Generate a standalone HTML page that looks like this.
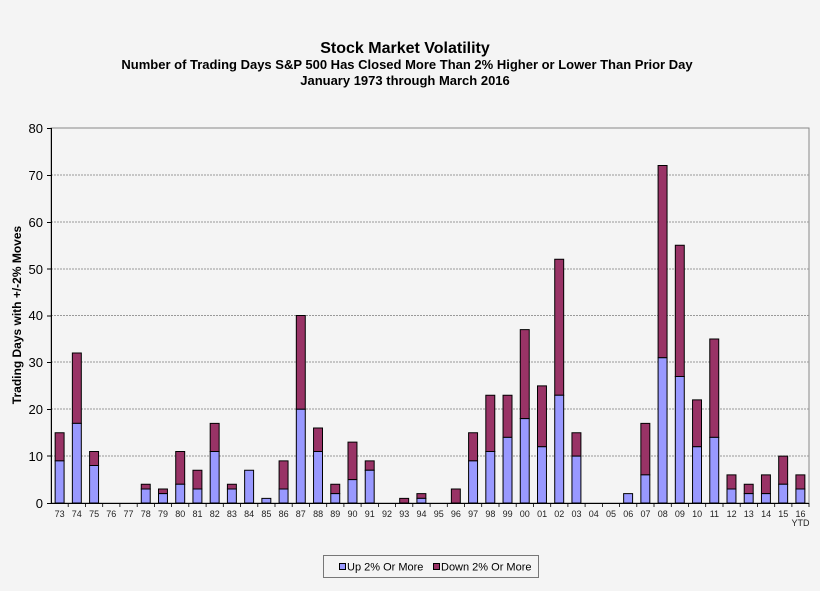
<!DOCTYPE html>
<html><head><meta charset="utf-8"><style>
html,body{margin:0;padding:0;background:#f4f4f4;overflow:hidden;width:820px;height:591px;}
svg{display:block;}
svg text{font-family:"Liberation Sans",Arial,sans-serif;}
</style></head><body>
<svg width="820" height="591" xmlns="http://www.w3.org/2000/svg">
<rect width="820" height="591" fill="#f4f4f4"/>
<text x="405" y="53" font-size="16" font-weight="bold" text-anchor="middle">Stock Market Volatility</text>
<text x="407" y="69" font-size="13" font-weight="bold" text-anchor="middle">Number of Trading Days S&amp;P 500 Has Closed More Than 2% Higher or Lower Than Prior Day</text>
<text x="405" y="85" font-size="13" font-weight="bold" text-anchor="middle">January 1973 through March 2016</text>
<rect x="51" y="128" width="758" height="375" fill="none" stroke="#888" stroke-width="1"/>
<g stroke="#999" stroke-width="1" stroke-dasharray="2,1">
<line x1="51" x2="809" y1="175" y2="175"/><line x1="51" x2="809" y1="222" y2="222"/>
<line x1="51" x2="809" y1="269" y2="269"/><line x1="51" x2="809" y1="315.5" y2="315.5"/>
<line x1="51" x2="809" y1="362" y2="362"/><line x1="51" x2="809" y1="409" y2="409"/>
<line x1="51" x2="809" y1="456" y2="456"/>
</g>
<svg x="51" y="128" width="758" height="375" viewBox="0 -80 44 80" preserveAspectRatio="none" overflow="visible">
<g stroke="#000" stroke-width="1" vector-effect="non-scaling-stroke">
<g fill="#993366">
<rect x="0.24" y="-15" width="0.52" height="6" vector-effect="non-scaling-stroke"/>
<rect x="1.24" y="-32" width="0.52" height="15" vector-effect="non-scaling-stroke"/>
<rect x="2.24" y="-11" width="0.52" height="3" vector-effect="non-scaling-stroke"/>
<rect x="5.24" y="-4" width="0.52" height="1" vector-effect="non-scaling-stroke"/>
<rect x="6.24" y="-3" width="0.52" height="1" vector-effect="non-scaling-stroke"/>
<rect x="7.24" y="-11" width="0.52" height="7" vector-effect="non-scaling-stroke"/>
<rect x="8.24" y="-7" width="0.52" height="4" vector-effect="non-scaling-stroke"/>
<rect x="9.24" y="-17" width="0.52" height="6" vector-effect="non-scaling-stroke"/>
<rect x="10.24" y="-4" width="0.52" height="1" vector-effect="non-scaling-stroke"/>
<rect x="13.24" y="-9" width="0.52" height="6" vector-effect="non-scaling-stroke"/>
<rect x="14.24" y="-40" width="0.52" height="20" vector-effect="non-scaling-stroke"/>
<rect x="15.24" y="-16" width="0.52" height="5" vector-effect="non-scaling-stroke"/>
<rect x="16.24" y="-4" width="0.52" height="2" vector-effect="non-scaling-stroke"/>
<rect x="17.24" y="-13" width="0.52" height="8" vector-effect="non-scaling-stroke"/>
<rect x="18.24" y="-9" width="0.52" height="2" vector-effect="non-scaling-stroke"/>
<rect x="20.24" y="-1" width="0.52" height="1" vector-effect="non-scaling-stroke"/>
<rect x="21.24" y="-2" width="0.52" height="1" vector-effect="non-scaling-stroke"/>
<rect x="23.24" y="-3" width="0.52" height="3" vector-effect="non-scaling-stroke"/>
<rect x="24.24" y="-15" width="0.52" height="6" vector-effect="non-scaling-stroke"/>
<rect x="25.24" y="-23" width="0.52" height="12" vector-effect="non-scaling-stroke"/>
<rect x="26.24" y="-23" width="0.52" height="9" vector-effect="non-scaling-stroke"/>
<rect x="27.24" y="-37" width="0.52" height="19" vector-effect="non-scaling-stroke"/>
<rect x="28.24" y="-25" width="0.52" height="13" vector-effect="non-scaling-stroke"/>
<rect x="29.24" y="-52" width="0.52" height="29" vector-effect="non-scaling-stroke"/>
<rect x="30.24" y="-15" width="0.52" height="5" vector-effect="non-scaling-stroke"/>
<rect x="34.24" y="-17" width="0.52" height="11" vector-effect="non-scaling-stroke"/>
<rect x="35.24" y="-72" width="0.52" height="41" vector-effect="non-scaling-stroke"/>
<rect x="36.24" y="-55" width="0.52" height="28" vector-effect="non-scaling-stroke"/>
<rect x="37.24" y="-22" width="0.52" height="10" vector-effect="non-scaling-stroke"/>
<rect x="38.24" y="-35" width="0.52" height="21" vector-effect="non-scaling-stroke"/>
<rect x="39.24" y="-6" width="0.52" height="3" vector-effect="non-scaling-stroke"/>
<rect x="40.24" y="-4" width="0.52" height="2" vector-effect="non-scaling-stroke"/>
<rect x="41.24" y="-6" width="0.52" height="4" vector-effect="non-scaling-stroke"/>
<rect x="42.24" y="-10" width="0.52" height="6" vector-effect="non-scaling-stroke"/>
<rect x="43.24" y="-6" width="0.52" height="3" vector-effect="non-scaling-stroke"/>
</g>
<g fill="#9999ff">
<rect x="0.24" y="-9" width="0.52" height="9" vector-effect="non-scaling-stroke"/>
<rect x="1.24" y="-17" width="0.52" height="17" vector-effect="non-scaling-stroke"/>
<rect x="2.24" y="-8" width="0.52" height="8" vector-effect="non-scaling-stroke"/>
<rect x="5.24" y="-3" width="0.52" height="3" vector-effect="non-scaling-stroke"/>
<rect x="6.24" y="-2" width="0.52" height="2" vector-effect="non-scaling-stroke"/>
<rect x="7.24" y="-4" width="0.52" height="4" vector-effect="non-scaling-stroke"/>
<rect x="8.24" y="-3" width="0.52" height="3" vector-effect="non-scaling-stroke"/>
<rect x="9.24" y="-11" width="0.52" height="11" vector-effect="non-scaling-stroke"/>
<rect x="10.24" y="-3" width="0.52" height="3" vector-effect="non-scaling-stroke"/>
<rect x="11.24" y="-7" width="0.52" height="7" vector-effect="non-scaling-stroke"/>
<rect x="12.24" y="-1" width="0.52" height="1" vector-effect="non-scaling-stroke"/>
<rect x="13.24" y="-3" width="0.52" height="3" vector-effect="non-scaling-stroke"/>
<rect x="14.24" y="-20" width="0.52" height="20" vector-effect="non-scaling-stroke"/>
<rect x="15.24" y="-11" width="0.52" height="11" vector-effect="non-scaling-stroke"/>
<rect x="16.24" y="-2" width="0.52" height="2" vector-effect="non-scaling-stroke"/>
<rect x="17.24" y="-5" width="0.52" height="5" vector-effect="non-scaling-stroke"/>
<rect x="18.24" y="-7" width="0.52" height="7" vector-effect="non-scaling-stroke"/>
<rect x="21.24" y="-1" width="0.52" height="1" vector-effect="non-scaling-stroke"/>
<rect x="24.24" y="-9" width="0.52" height="9" vector-effect="non-scaling-stroke"/>
<rect x="25.24" y="-11" width="0.52" height="11" vector-effect="non-scaling-stroke"/>
<rect x="26.24" y="-14" width="0.52" height="14" vector-effect="non-scaling-stroke"/>
<rect x="27.24" y="-18" width="0.52" height="18" vector-effect="non-scaling-stroke"/>
<rect x="28.24" y="-12" width="0.52" height="12" vector-effect="non-scaling-stroke"/>
<rect x="29.24" y="-23" width="0.52" height="23" vector-effect="non-scaling-stroke"/>
<rect x="30.24" y="-10" width="0.52" height="10" vector-effect="non-scaling-stroke"/>
<rect x="33.24" y="-2" width="0.52" height="2" vector-effect="non-scaling-stroke"/>
<rect x="34.24" y="-6" width="0.52" height="6" vector-effect="non-scaling-stroke"/>
<rect x="35.24" y="-31" width="0.52" height="31" vector-effect="non-scaling-stroke"/>
<rect x="36.24" y="-27" width="0.52" height="27" vector-effect="non-scaling-stroke"/>
<rect x="37.24" y="-12" width="0.52" height="12" vector-effect="non-scaling-stroke"/>
<rect x="38.24" y="-14" width="0.52" height="14" vector-effect="non-scaling-stroke"/>
<rect x="39.24" y="-3" width="0.52" height="3" vector-effect="non-scaling-stroke"/>
<rect x="40.24" y="-2" width="0.52" height="2" vector-effect="non-scaling-stroke"/>
<rect x="41.24" y="-2" width="0.52" height="2" vector-effect="non-scaling-stroke"/>
<rect x="42.24" y="-4" width="0.52" height="4" vector-effect="non-scaling-stroke"/>
<rect x="43.24" y="-3" width="0.52" height="3" vector-effect="non-scaling-stroke"/>
</g>
</g>
</svg>
<g stroke="#000" stroke-width="1">
<line x1="51.5" y1="128" x2="51.5" y2="504"/>
<line x1="51" y1="503.5" x2="809" y2="503.5"/>
<line x1="47" x2="51" y1="128.5" y2="128.5"/><line x1="47" x2="51" y1="175.5" y2="175.5"/>
<line x1="47" x2="51" y1="222.5" y2="222.5"/><line x1="47" x2="51" y1="269" y2="269"/>
<line x1="47" x2="51" y1="316" y2="316"/><line x1="47" x2="51" y1="362.5" y2="362.5"/>
<line x1="47" x2="51" y1="409.5" y2="409.5"/><line x1="47" x2="51" y1="456" y2="456"/>
<line x1="47" x2="51" y1="503.5" y2="503.5"/>
</g>
<g stroke="#000" stroke-width="0.8">
<path d="M68.2 503v4M85.5 503v4M102.7 503v4M119.9 503v4M137.2 503v4M154.4 503v4M171.6 503v4M188.8 503v4M206.1 503v4M223.3 503v4M240.5 503v4M257.8 503v4M275 503v4M292.2 503v4M309.4 503v4M326.7 503v4M343.9 503v4M361.1 503v4M378.4 503v4M395.6 503v4M412.8 503v4M430.1 503v4M447.3 503v4M464.5 503v4M481.7 503v4M499 503v4M516.2 503v4M533.4 503v4M550.7 503v4M567.9 503v4M585.1 503v4M602.4 503v4M619.6 503v4M636.8 503v4M654 503v4M671.3 503v4M688.5 503v4M705.7 503v4M723 503v4M740.2 503v4M757.4 503v4M774.7 503v4M791.9 503v4M809 503v4"/>
</g>
<g font-size="13" text-anchor="end">
<text x="43" y="133">80</text><text x="43" y="180">70</text><text x="43" y="227">60</text>
<text x="43" y="274">50</text><text x="43" y="320">40</text><text x="43" y="367">30</text>
<text x="43" y="414">20</text><text x="43" y="461">10</text><text x="43" y="508">0</text>
</g>
<text transform="translate(21,315) rotate(-90)" font-size="12" font-weight="bold" text-anchor="middle">Trading Days with +/-2% Moves</text>
<g font-size="9" text-anchor="middle" fill="#222">
<text x="59.6" y="517">73</text><text x="76.8" y="517">74</text><text x="94.1" y="517">75</text><text x="111.3" y="517">76</text><text x="128.5" y="517">77</text><text x="145.8" y="517">78</text><text x="163" y="517">79</text><text x="180.2" y="517">80</text><text x="197.5" y="517">81</text><text x="214.7" y="517">82</text><text x="231.9" y="517">83</text><text x="249.1" y="517">84</text><text x="266.4" y="517">85</text><text x="283.6" y="517">86</text><text x="300.8" y="517">87</text><text x="318.1" y="517">88</text><text x="335.3" y="517">89</text><text x="352.5" y="517">90</text><text x="369.8" y="517">91</text><text x="387" y="517">92</text><text x="404.2" y="517">93</text><text x="421.5" y="517">94</text><text x="438.7" y="517">95</text><text x="455.9" y="517">96</text><text x="473.1" y="517">97</text><text x="490.4" y="517">98</text><text x="507.6" y="517">99</text><text x="524.8" y="517">00</text><text x="542.1" y="517">01</text><text x="559.3" y="517">02</text><text x="576.5" y="517">03</text><text x="593.8" y="517">04</text><text x="611" y="517">05</text><text x="628.2" y="517">06</text><text x="645.5" y="517">07</text><text x="662.7" y="517">08</text><text x="679.9" y="517">09</text><text x="697.1" y="517">10</text><text x="714.4" y="517">11</text><text x="731.6" y="517">12</text><text x="748.8" y="517">13</text><text x="766.1" y="517">14</text><text x="783.3" y="517">15</text><text x="800.5" y="517">16</text>
<text x="800.5" y="526">YTD</text>
</g>
<rect x="323.5" y="555.5" width="215" height="22" fill="none" stroke="#777"/>
<rect x="339.5" y="563.5" width="6" height="6" fill="#9999ff" stroke="#000"/>
<text x="347" y="570.5" font-size="11">Up 2% Or More</text>
<rect x="433.5" y="563.5" width="6" height="6" fill="#993366" stroke="#000"/>
<text x="441" y="570.5" font-size="11">Down 2% Or More</text>
</svg>
</body></html>
